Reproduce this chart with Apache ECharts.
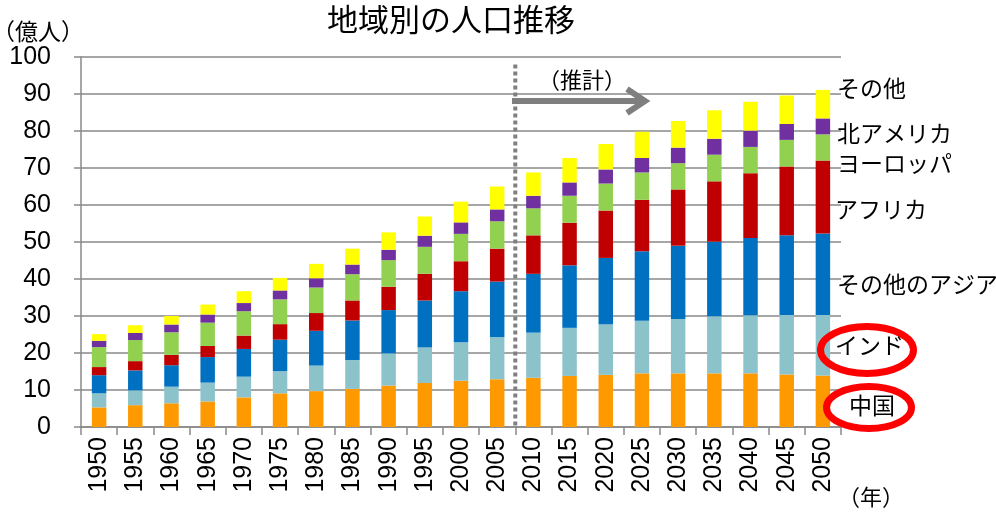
<!DOCTYPE html>
<html>
<head>
<meta charset="utf-8">
<script src="https://cdn.jsdelivr.net/npm/echarts@6/dist/echarts.min.js"></script>
<style>
html, body { margin: 0; padding: 0; background: #fff; }
#main { width: 996px; height: 513px; }
</style>
</head>
<body>
<div id="main"></div>
<script>
var years = ['1950', '1955', '1960', '1965', '1970', '1975', '1980', '1985', '1990', '1995', '2000',
	'2005', '2010', '2015', '2020', '2025', '2030', '2035', '2040', '2045', '2050'];

// 億人
var china = [5.3, 5.9, 6.4, 6.9, 8.0, 9.1, 9.7, 10.3, 11.2, 11.9, 12.5,
	12.9, 13.3, 13.8, 14.1, 14.5, 14.5, 14.5, 14.5, 14.2, 13.9];
var india = [3.8, 4.0, 4.5, 5.1, 5.6, 6.0, 6.9, 7.8, 8.7, 9.6, 10.4,
	11.4, 12.2, 13.0, 13.7, 14.2, 14.7, 15.4, 15.7, 16.1, 16.4];
var otherAsia = [4.9, 5.4, 5.8, 6.9, 7.5, 8.5, 9.4, 10.7, 11.7, 12.7, 13.8,
	15.0, 15.9, 16.9, 17.9, 18.8, 19.8, 20.2, 20.9, 21.5, 22.0];
var africa = [2.2, 2.5, 2.8, 3.0, 3.6, 4.2, 4.8, 5.4, 6.3, 7.2, 8.1,
	8.9, 10.4, 11.5, 12.8, 13.9, 15.2, 16.3, 17.5, 18.6, 19.7];
var europe = [5.4, 5.7, 6.1, 6.3, 6.6, 6.7, 6.9, 7.1, 7.2, 7.3, 7.4,
	7.4, 7.3, 7.3, 7.3, 7.4, 7.1, 7.2, 7.1, 7.2, 7.1];
var northAmerica = [1.7, 1.9, 2.1, 2.2, 2.2, 2.4, 2.5, 2.6, 2.8, 3.0, 3.1,
	3.2, 3.4, 3.6, 3.8, 3.9, 4.2, 4.3, 4.4, 4.3, 4.3];
var others = [1.8, 2.1, 2.3, 2.7, 3.2, 3.4, 3.9, 4.3, 4.7, 5.2, 5.6,
	6.2, 6.3, 6.6, 6.9, 7.1, 7.2, 7.7, 7.8, 7.7, 7.7];

var seriesNames = ['中国', 'インド', 'その他のアジア', 'アフリカ', 'ヨーロッパ', '北アメリカ', 'その他'];
var seriesData = [china, india, otherAsia, africa, europe, northAmerica, others];
var colors = ['#FF9900', '#8CC3CB', '#0070C0', '#C00000', '#92D050', '#7030A0', '#FFFF00'];

var fontFamily = "'Liberation Sans', 'Noto Sans CJK JP', sans-serif";
var axisGray = '#898989';

var series = [];
for (var i = 0; i < seriesNames.length; i++) {
	series.push({
		name : seriesNames[i],
		type : 'bar',
		stack : 'pop',
		barWidth : '40%',
		itemStyle : {
			color : colors[i]
		},
		data : seriesData[i]
	});
}

var myChart = echarts.init(document.getElementById('main'));

var option = {
	animation : false,
	textStyle : {
		fontFamily : fontFamily
	},
	title : {
		text : '地域別の人口推移',
		left : 322,
		top : 2,
		textStyle : {
			fontSize : 31,
			fontWeight : 'normal',
			color : '#000',
			fontFamily : fontFamily
		}
	},
	grid : {
		left : 81,
		right : 155,
		top : 57,
		bottom : 86
	},
	xAxis : {
		type : 'category',
		data : years,
		axisLine : {
			lineStyle : { color : axisGray, width : 1.5 }
		},
		axisTick : {
			show : true,
			length : 8,
			lineStyle : { color : axisGray, width : 1.5 }
		},
		axisLabel : {
			rotate : 90,
			interval : 0,
			margin : 10,
			fontSize : 25,
			color : '#000',
			fontFamily : fontFamily
		}
	},
	yAxis : {
		type : 'value',
		min : 0,
		max : 100,
		interval : 10,
		axisLine : {
			show : true,
			lineStyle : { color : axisGray, width : 1.5 }
		},
		axisTick : {
			show : true,
			length : 7,
			lineStyle : { color : axisGray, width : 1.5 }
		},
		splitLine : {
			lineStyle : { color : axisGray, width : 1.5 }
		},
		axisLabel : {
			margin : 30,
			fontSize : 25,
			color : '#000',
			fontFamily : fontFamily
		}
	},
	series : series
};
myChart.setOption(option);

// 2005 と 2010 の間の点線（推計の境目）
var x2005 = myChart.convertToPixel({ xAxisIndex : 0 }, '2005');
var x2010 = myChart.convertToPixel({ xAxisIndex : 0 }, '2010');
var xSplit = (x2005 + x2010) / 2;
var yTop = myChart.convertToPixel({ yAxisIndex : 0 }, 98);
var yZero = myChart.convertToPixel({ yAxisIndex : 0 }, 0);

var jpFont = "'Noto Sans CJK JP', sans-serif";

var labelStyle = function(text, x, y, size, font) {
	return {
		type : 'text',
		x : x,
		y : y,
		z : 100,
		style : {
			text : text,
			fill : '#000',
			font : size + 'px ' + (font || fontFamily),
			textVerticalAlign : 'middle'
		}
	};
};

myChart.setOption({
	graphic : [
		{
			type : 'line',
			z : 50,
			shape : { x1 : xSplit, y1 : yTop, x2 : xSplit, y2 : yZero },
			style : { stroke : '#808080', lineWidth : 4, lineDash : [4, 3] }
		},
		{
			type : 'line',
			z : 50,
			shape : { x1 : 512, y1 : 101, x2 : 644, y2 : 101 },
			style : { stroke : '#7F7F7F', lineWidth : 6 }
		},
		{
			type : 'polyline',
			z : 50,
			shape : { points : [[627, 89], [645, 101], [627, 113]] },
			style : { stroke : '#7F7F7F', lineWidth : 6, fill : null }
		},
		labelStyle('（推計）', 538, 80, 22, jpFont),
		labelStyle('（億人）', -8, 31, 23, jpFont),
		labelStyle('（年）', 838, 497, 22, jpFont),
		labelStyle('その他', 837, 91, 23),
		labelStyle('北アメリカ', 837, 136, 23),
		labelStyle('ヨーロッパ', 837, 166, 23),
		labelStyle('アフリカ', 835, 212, 23),
		labelStyle('その他のアジア', 837, 287, 23),
		{
			type : 'ellipse',
			z : 90,
			shape : { cx : 867, cy : 350, rx : 46.5, ry : 23.5 },
			style : { fill : null, stroke : '#FF0000', lineWidth : 7 }
		},
		{
			type : 'ellipse',
			z : 90,
			shape : { cx : 869, cy : 407.5, rx : 42.5, ry : 21 },
			style : { fill : null, stroke : '#FF0000', lineWidth : 7 }
		},
		labelStyle('インド', 835, 348, 23),
		labelStyle('中国', 849, 408, 23)
	]
});
</script>
</body>
</html>
